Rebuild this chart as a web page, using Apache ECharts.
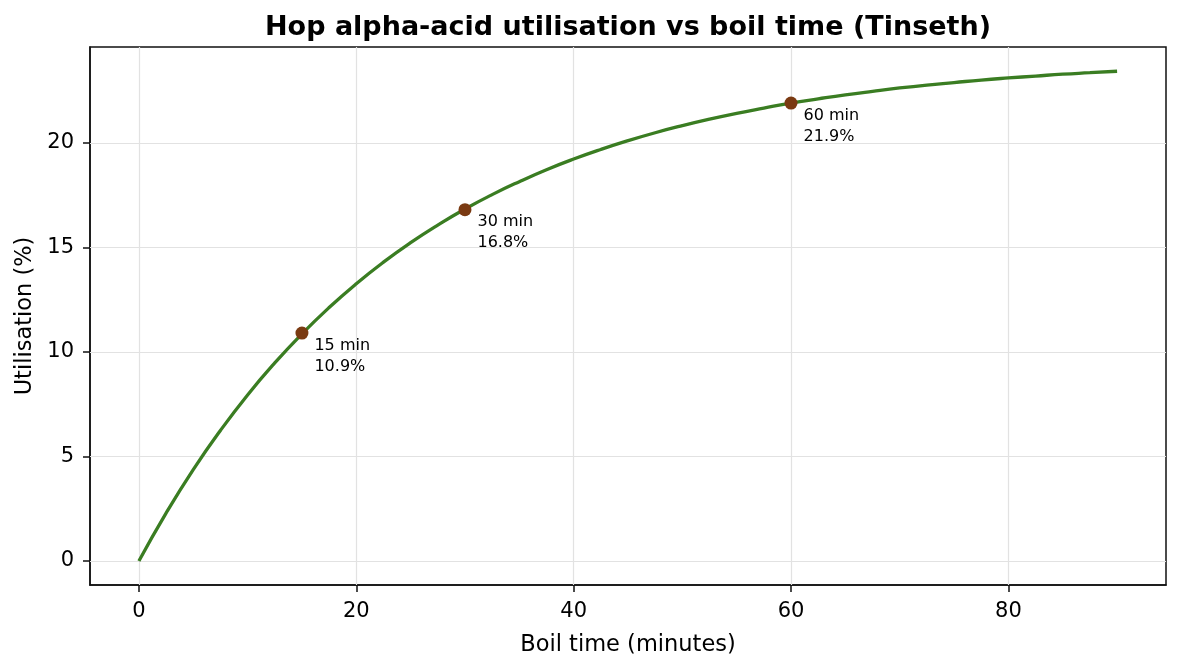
<!DOCTYPE html>
<html>
<head>
<meta charset="utf-8">
<script src="https://cdn.jsdelivr.net/npm/echarts@6/dist/echarts.min.js"></script>
<style>
  html, body { margin: 0; padding: 0; background: #fff; }
  #chart { width: 1180px; height: 670px; }
</style>
</head>
<body>
<div id="chart"></div>
<script>
// boil time (minutes) and utilisation (%)
var boilTimes = [0, 2.5, 5, 7.5, 10, 12.5, 15, 17.5, 20, 22.5, 25, 27.5, 30, 32.5, 35, 37.5, 40, 42.5, 45,
  47.5, 50, 52.5, 55, 57.5, 60, 62.5, 65, 67.5, 70, 72.5, 75, 77.5, 80, 82.5, 85, 87.5, 90];
var utilisation = [0, 2.29, 4.37, 6.24, 7.94, 9.47, 10.86, 12.12, 13.26, 14.29, 15.22, 16.06, 16.83, 17.52, 18.14, 18.71, 19.22, 19.68, 20.10,
  20.48, 20.82, 21.13, 21.41, 21.66, 21.90, 22.10, 22.29, 22.46, 22.62, 22.76, 22.88, 23.00, 23.10, 23.19, 23.28, 23.35, 23.42];

var markTimes = [15, 30, 60];
var markValues = [10.9, 16.8, 21.9];

var xTicks = [0, 20, 40, 60, 80];
var yTicks = [0, 5, 10, 15, 20];

var font = 'DejaVu Sans';
var chart = echarts.init(document.getElementById('chart'));

var option = {
  animation: false,
  textStyle: { fontFamily: font },
  title: {
    text: 'Hop alpha-acid utilisation vs boil time (Tinseth)',
    left: 623,
    top: 9,
    textAlign: 'center',
    textStyle: { fontFamily: font, fontSize: 27, fontWeight: 'bold', color: '#000' }
  },
  grid: { left: 90, right: 14, top: 47, bottom: 85, show: true, borderColor: '#111', borderWidth: 1.5 },
  xAxis: {
    type: 'value',
    min: -4.5,
    max: 94.5,
    name: 'Boil time (minutes)',
    nameLocation: 'middle',
    nameGap: 49,
    nameTextStyle: { fontFamily: font, fontSize: 22.5, color: '#000' },
    axisLine: { show: true, onZero: false, lineStyle: { color: '#111', width: 1.5 } },
    axisTick: { show: true, customValues: xTicks, length: 7, lineStyle: { color: '#111', width: 1.5 } },
    axisLabel: { customValues: xTicks, fontFamily: font, fontSize: 21, color: '#000', margin: 16 },
    splitLine: { show: false }
  },
  yAxis: {
    type: 'value',
    min: -1.15,
    max: 24.58,
    name: 'Utilisation (%)',
    nameLocation: 'middle',
    nameGap: 51,
    nameTextStyle: { fontFamily: font, fontSize: 22.5, color: '#000' },
    axisLine: { show: true, onZero: false, lineStyle: { color: '#111', width: 1.5 } },
    axisTick: { show: true, customValues: yTicks, length: 7, lineStyle: { color: '#111', width: 1.5 } },
    axisLabel: { customValues: yTicks, fontFamily: font, fontSize: 21, color: '#000', margin: 16 },
    splitLine: { show: false }
  },
  series: [
    {
      type: 'line',
      data: boilTimes.map(function (t, i) { return [t, utilisation[i]]; }),
      smooth: true,
      showSymbol: false,
      lineStyle: { color: '#3a7d22', width: 3.3 },
      z: 3,
      markLine: {
        silent: true,
        symbol: 'none',
        label: { show: false },
        lineStyle: { color: '#e2e2e2', width: 1.2, type: 'solid' },
        z: 1,
        data: xTicks.map(function (v) { return { xAxis: v }; })
          .concat(yTicks.map(function (v) { return { yAxis: v }; }))
      }
    },
    {
      type: 'scatter',
      data: markTimes.map(function (t, i) { return [t, markValues[i]]; }),
      symbol: 'circle',
      symbolSize: 13,
      itemStyle: { color: '#7a3a12', opacity: 1 },
      z: 4,
      label: {
        show: true,
        position: 'right',
        align: 'left',
        verticalAlign: 'top',
        offset: [-1, 2],
        distance: 7,
        fontFamily: font,
        fontSize: 16,
        lineHeight: 21,
        color: '#000',
        formatter: function (p) { return p.value[0] + ' min\n' + p.value[1].toFixed(1) + '%'; }
      }
    }
  ]
};
chart.setOption(option);
</script>
</body>
</html>
